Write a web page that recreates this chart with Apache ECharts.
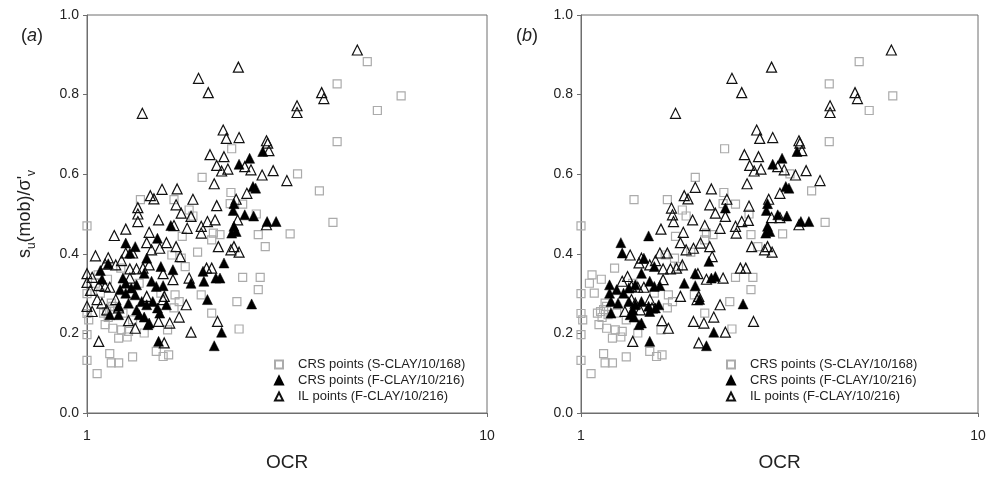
<!DOCTYPE html>
<html>
<head>
<meta charset="utf-8">
<script src="https://cdn.jsdelivr.net/npm/echarts@6/dist/echarts.min.js"></script>
<style>
  html, body { margin: 0; padding: 0; background: #fff; }
  #main { width: 990px; height: 491px; }
</style>
</head>
<body>
<div id="main"></div>
<script>
// [OCR, su(mob)/sigma'v]
var crsSClay = [
  [5.02,0.883],[4.22,0.827],[6.10,0.797],[5.32,0.760],[4.22,0.682],[3.36,0.601],[3.81,0.558],[4.12,0.479],
  [3.22,0.450],[2.30,0.664],[1.94,0.592],[1.36,0.536],[1.65,0.536],[2.29,0.554],[2.45,0.525],[1.80,0.510],
  [1.84,0.495],[2.07,0.452],[2.05,0.435],[2.28,0.526],[2.68,0.448],[2.65,0.500],[2.79,0.418],[1.89,0.404],
  [1.73,0.444],[1.63,0.397],[1.72,0.389],[2.45,0.341],[2.71,0.341],[2.68,0.310],[2.37,0.280],[2.40,0.211],
  [2.05,0.251],[1.93,0.297],[1.70,0.280],[1.65,0.264],[1.0,0.470],[1.01,0.234],[1.0,0.197],[1.0,0.132],
  [1.06,0.099],[1.14,0.149],[1.15,0.126],[1.20,0.126],[1.30,0.141],[1.16,0.213],[1.11,0.222],[1.20,0.188],
  [1.26,0.191],[1.27,0.205],[1.39,0.201],[1.49,0.155],[1.55,0.142],[1.60,0.146],[1.59,0.209],[1.12,0.255],
  [1.16,0.268],[1.23,0.251],[1.30,0.234],[1.08,0.301],[1.35,0.326],[1.53,0.301],[1.66,0.297],[1.76,0.368],
  [2.15,0.448],[1.066,0.347],[1.125,0.336],[1.05,0.326],[1.215,0.364],[1.15,0.276],[1.17,0.247],[1.10,0.251],
  [1.13,0.240],[1.14,0.260],[1.0,0.300],[1.0,0.250],[1.22,0.209]
];

var crsFClayA = [
  [2.55,0.640],[2.75,0.657],[2.40,0.625],[2.60,0.569],[2.64,0.565],[2.33,0.526],[2.32,0.509],[2.48,0.498],
  [2.61,0.495],[2.33,0.469],[2.30,0.452],[2.36,0.456],[2.82,0.481],[2.97,0.481],[1.62,0.471],[1.25,0.427],
  [1.32,0.418],[1.28,0.402],[1.50,0.439],[1.53,0.368],[1.64,0.360],[1.08,0.358],[1.09,0.336],[1.13,0.375],
  [1.23,0.339],[1.25,0.326],[1.29,0.314],[1.33,0.322],[1.39,0.351],[1.41,0.389],[1.45,0.331],[1.49,0.318],
  [1.55,0.320],[1.21,0.310],[1.25,0.301],[1.32,0.297],[1.37,0.280],[1.41,0.272],[1.46,0.280],[1.20,0.268],
  [1.27,0.276],[1.33,0.259],[1.14,0.247],[1.20,0.247],[1.35,0.247],[1.39,0.241],[1.42,0.222],[1.43,0.226],
  [1.50,0.264],[1.52,0.251],[1.58,0.272],[1.82,0.326],[1.96,0.331],[2.10,0.339],[2.15,0.339],[2.20,0.377],
  [2.0,0.285],[1.95,0.356],[2.58,0.274],[2.17,0.203],[2.08,0.169],[1.51,0.180]
];

var ilFClayA = [
  [4.74,0.912],[2.39,0.869],[1.90,0.841],[2.01,0.805],[1.375,0.753],[3.35,0.772],[3.35,0.755],[3.86,0.805],
  [3.91,0.790],[2.19,0.711],[2.23,0.690],[2.40,0.692],[2.81,0.684],[2.83,0.678],[2.85,0.659],[2.03,0.649],
  [2.20,0.644],[2.11,0.622],[2.17,0.608],[2.25,0.613],[2.48,0.619],[2.57,0.611],[2.74,0.598],[2.92,0.609],
  [3.16,0.584],[2.08,0.576],[2.51,0.552],[2.36,0.537],[1.54,0.562],[1.68,0.563],[1.44,0.546],[1.47,0.538],
  [1.84,0.537],[1.34,0.516],[1.34,0.500],[1.34,0.481],[1.67,0.523],[1.72,0.502],[2.11,0.521],[1.82,0.494],
  [1.78,0.464],[1.93,0.469],[1.93,0.452],[2.0,0.481],[2.09,0.485],[2.38,0.485],[2.81,0.473],[1.25,0.462],
  [1.17,0.446],[1.43,0.454],[1.51,0.485],[1.65,0.471],[1.41,0.428],[1.45,0.410],[1.52,0.414],[1.58,0.428],
  [1.67,0.418],[1.71,0.393],[2.13,0.418],[2.29,0.410],[2.33,0.418],[2.40,0.404],[1.05,0.395],[1.11,0.374],
  [1.0,0.350],[1.03,0.341],[1.0,0.328],[1.02,0.308],[1.13,0.390],[1.18,0.372],[1.22,0.383],[1.25,0.402],
  [1.30,0.402],[1.28,0.362],[1.33,0.362],[1.38,0.364],[1.43,0.372],[1.55,0.350],[1.64,0.335],[1.80,0.339],
  [1.07,0.320],[1.11,0.318],[1.14,0.316],[1.06,0.285],[1.09,0.276],[1.12,0.259],[1.0,0.268],[1.03,0.255],
  [1.18,0.285],[1.20,0.264],[1.28,0.339],[1.41,0.293],[1.55,0.285],[1.56,0.293],[1.77,0.272],[1.27,0.232],
  [1.32,0.213],[1.51,0.230],[1.61,0.226],[1.70,0.241],[1.07,0.180],[1.56,0.176],[1.82,0.203],[2.12,0.230],
  [1.99,0.364],[2.05,0.364]
];

var crsFClayB = [
  [3.21,0.640],[3.50,0.657],[3.04,0.625],[3.28,0.569],[3.34,0.565],[2.95,0.526],[2.93,0.509],[3.13,0.498],
  [3.30,0.495],[2.95,0.469],[2.92,0.452],[2.99,0.456],[3.58,0.481],[3.75,0.481],[2.31,0.515],[1.48,0.445],
  [1.26,0.428],[1.27,0.402],[1.53,0.368],[1.18,0.322],[1.18,0.301],[1.19,0.280],[1.19,0.251],[1.23,0.310],
  [1.28,0.301],[1.32,0.314],[1.37,0.322],[1.42,0.351],[1.44,0.389],[1.49,0.331],[1.53,0.318],[1.58,0.320],
  [1.32,0.280],[1.37,0.272],[1.42,0.280],[1.48,0.268],[1.35,0.259],[1.24,0.276],[1.33,0.247],[1.36,0.241],
  [1.40,0.222],[1.42,0.226],[1.49,0.255],[1.54,0.264],[1.57,0.272],[1.49,0.180],[2.10,0.381],[2.18,0.343],
  [2.13,0.339],[1.94,0.351],[1.82,0.326],[1.94,0.320],[1.99,0.285],[2.56,0.274],[2.16,0.203],[2.07,0.169]
];

var ilFClayB = [
  [6.05,0.912],[3.02,0.869],[2.40,0.841],[2.54,0.805],[1.73,0.753],[4.24,0.772],[4.24,0.755],[4.90,0.805],
  [4.97,0.790],[2.77,0.711],[2.82,0.690],[3.04,0.692],[3.54,0.684],[3.56,0.678],[3.60,0.659],[2.58,0.649],
  [2.80,0.644],[2.66,0.622],[2.73,0.608],[2.84,0.613],[3.13,0.619],[3.25,0.611],[3.47,0.598],[3.69,0.609],
  [4.0,0.584],[2.62,0.576],[3.17,0.552],[2.97,0.537],[1.94,0.567],[2.13,0.563],[1.82,0.546],[1.86,0.538],
  [2.33,0.537],[1.69,0.515],[1.70,0.498],[1.71,0.481],[2.11,0.523],[2.18,0.502],[2.65,0.520],[2.31,0.494],
  [2.24,0.464],[2.45,0.469],[2.46,0.452],[2.54,0.481],[2.64,0.484],[3.02,0.491],[3.54,0.473],[3.17,0.491],
  [1.59,0.462],[1.81,0.454],[1.91,0.485],[2.05,0.471],[1.78,0.428],[1.84,0.410],[1.92,0.414],[2.0,0.427],
  [2.11,0.418],[2.14,0.393],[2.69,0.418],[2.90,0.410],[2.95,0.418],[3.03,0.404],[1.33,0.397],[1.40,0.377],
  [1.42,0.389],[1.49,0.372],[1.54,0.383],[1.58,0.402],[1.65,0.402],[1.61,0.362],[1.68,0.362],[1.74,0.364],
  [1.80,0.372],[1.97,0.350],[2.07,0.336],[2.28,0.339],[1.31,0.343],[1.27,0.331],[1.34,0.318],[1.39,0.316],
  [1.44,0.316],[1.34,0.285],[1.37,0.276],[1.41,0.259],[1.29,0.255],[1.49,0.285],[1.51,0.264],[1.61,0.335],
  [1.78,0.293],[1.96,0.285],[1.98,0.293],[2.24,0.272],[1.60,0.232],[1.66,0.213],[1.92,0.230],[2.04,0.226],
  [2.16,0.241],[1.35,0.180],[1.98,0.176],[2.31,0.203],[2.72,0.230],[2.52,0.364],[2.60,0.364]
];

var seriesNames = ['CRS points (S-CLAY/10/168)', 'CRS points (F-CLAY/10/216)', 'IL points (F-CLAY/10/216)'];
var yTicks = [0, 0.2, 0.4, 0.6, 0.8, 1.0];

var myChart = echarts.init(document.getElementById('main'));
var font = 'Liberation Sans, Arial, sans-serif';
var axisColor = '#6e6e6e';

function makeX(idx) {
  return {
    type: 'log', logBase: 10, min: 1, max: 10, gridIndex: idx,
    name: 'OCR', nameLocation: 'middle', nameGap: 40,
    nameTextStyle: { fontSize: 19, color: '#222', fontFamily: font },
    axisLine: { lineStyle: { color: axisColor } },
    axisTick: { inside: false, length: 4, lineStyle: { color: axisColor } },
    axisLabel: { margin: 16, fontSize: 14, color: '#222', fontFamily: font },
    splitLine: { show: false }
  };
}
function makeY(idx, withName) {
  var y = {
    type: 'value', min: yTicks[0], max: yTicks[yTicks.length - 1], interval: 0.2, gridIndex: idx,
    axisLine: { show: true, lineStyle: { color: axisColor } },
    axisTick: { show: true, length: 4, lineStyle: { color: axisColor } },
    axisLabel: { margin: 8, fontSize: 14, color: '#222', fontFamily: font,
      formatter: function (v) { return v.toFixed(1); } },
    splitLine: { show: false }
  };
  if (withName) {
    y.name = "{m|s}{s|u}{m|(mob)/σ'}{s|v}";
    y.nameLocation = 'middle';
    y.nameGap = 49;
    y.nameRotate = 90;
    y.nameTextStyle = {
      rich: {
        m: { fontSize: 18, color: '#222', fontFamily: font, verticalAlign: 'bottom', lineHeight: 22, padding: [0, 0, 4, 0] },
        s: { fontSize: 12, color: '#222', fontFamily: font, verticalAlign: 'bottom', lineHeight: 14 }
      }
    };
  }
  return y;
}

function scatterSeries(idx, squares, filled, open) {
  return [
    { name: seriesNames[0], type: 'scatter', xAxisIndex: idx, yAxisIndex: idx, data: squares,
      symbol: 'rect', symbolSize: 8,
      itemStyle: { color: 'rgba(255,255,255,0)', borderColor: '#ababab', borderWidth: 1.2, opacity: 1 } },
    { name: seriesNames[2], type: 'scatter', xAxisIndex: idx, yAxisIndex: idx, data: open,
      symbol: 'triangle', symbolSize: 10,
      itemStyle: { color: 'rgba(255,255,255,0)', borderColor: '#111', borderWidth: 1.2, opacity: 1 } },
    { name: seriesNames[1], type: 'scatter', xAxisIndex: idx, yAxisIndex: idx, data: filled,
      symbol: 'triangle', symbolSize: 10,
      itemStyle: { color: '#000', borderColor: '#000', borderWidth: 0.5, opacity: 1 } }
  ];
}

function makeLegend(left) {
  return {
    data: seriesNames, orient: 'vertical', left: left, top: 353,
    itemWidth: 8, itemHeight: 8, itemGap: 3, selectedMode: false,
    textStyle: { fontSize: 13, color: '#222', fontFamily: font, padding: [0, 0, 0, 10] }
  };
}

var option = {
  animation: false,
  backgroundColor: '#fff',
  title: [
    { text: '({i|a})', left: 16, top: 22,
      textStyle: { fontSize: 18, fontWeight: 'normal', color: '#222', fontFamily: font,
        rich: { i: { fontSize: 18, fontStyle: 'italic', color: '#222', fontFamily: font } } } },
    { text: '({i|b})', left: 511, top: 22,
      textStyle: { fontSize: 18, fontWeight: 'normal', color: '#222', fontFamily: font,
        rich: { i: { fontSize: 18, fontStyle: 'italic', color: '#222', fontFamily: font } } } }
  ],
  legend: [makeLegend(269), makeLegend(721)],
  grid: [
    { left: 87, right: 503, top: 15, bottom: 78, show: true, borderColor: axisColor, borderWidth: 1, backgroundColor: 'transparent' },
    { left: 581, right: 12, top: 15, bottom: 78, show: true, borderColor: axisColor, borderWidth: 1, backgroundColor: 'transparent' }
  ],
  xAxis: [makeX(0), makeX(1)],
  yAxis: [makeY(0, true), makeY(1, false)],
  series: scatterSeries(0, crsSClay, crsFClayA, ilFClayA).concat(scatterSeries(1, crsSClay, crsFClayB, ilFClayB))
};

myChart.setOption(option);
</script>
</body>
</html>
